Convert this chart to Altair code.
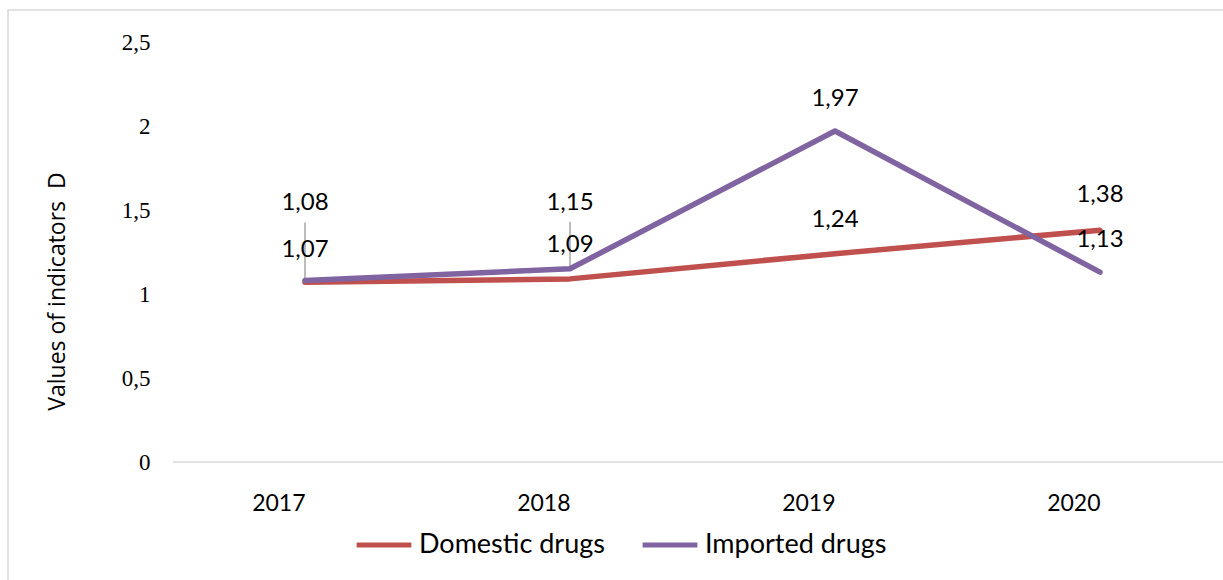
import altair as alt
import pandas as pd

years = ["2017", "2018", "2019", "2020"]
domestic = [1.07, 1.09, 1.24, 1.38]
imported = [1.08, 1.15, 1.97, 1.13]
series_names = ["Domestic drugs", "Imported drugs"]
colors = ["#C0504D", "#8064A2"]

# label placement (pixels above the point) and leader-line lengths (pixels)
dom_label_dy = [32, 34, 34, 35]
imp_label_dy = [78, 66, 32, 32]
imp_leader = [58, 47, 0, 0]

PX_PER_UNIT = 420 / 2.5

rows = []
for i, y in enumerate(years):
    rows.append(dict(year=y, series=series_names[0], value=domestic[i], dy=dom_label_dy[i], lead=0))
    rows.append(dict(year=y, series=series_names[1], value=imported[i], dy=imp_label_dy[i], lead=imp_leader[i]))
df = pd.DataFrame(rows)

x_scale = alt.Scale(type="point", range=[132, 927], padding=0)
x_enc = alt.X("year:O", scale=x_scale,
              axis=alt.Axis(title=None, labelAngle=0, ticks=False, domain=False,
                            labelFont="Lato", labelFontSize=23,
                            labelColor="#000000", labelPadding=41))
y_scale = alt.Scale(domain=[0, 2.5], nice=False)

base = alt.Chart(df)

one = pd.DataFrame({"a": [0]})
frame = alt.Chart(one).mark_rect(
    fill="transparent", stroke="#D9D9D9", strokeWidth=1.5
).encode(x=alt.value(-165), x2=alt.value(1070), y=alt.value(-32), y2=alt.value(600))

baseline = alt.Chart(one).mark_rule(color="#D9D9D9", strokeWidth=1.5).encode(
    x=alt.value(0), x2=alt.value(1050), y=alt.value(420)
)

lines = base.mark_line(strokeWidth=5.5, strokeCap="round", strokeJoin="round").encode(
    x=x_enc,
    y=alt.Y("value:Q", scale=y_scale,
            axis=alt.Axis(title="Values of indicators\u00a0 D", values=[0, 0.5, 1, 1.5, 2, 2.5],
                          labelExpr="replace(toString(datum.value), '.', ',')",
                          grid=False, domain=False, ticks=False,
                          labelFont="Liberation Serif", labelFontSize=23, labelColor="#000000",
                          labelPadding=23,
                          titleFont="Open Sans", titleFontSize=23, titleFontWeight="normal",
                          titleColor="#000000", titleAngle=270, titleX=-116, titleY=249,
                          titleAlign="center", titleBaseline="middle")),
    color=alt.Color("series:N", scale=alt.Scale(domain=series_names, range=colors),
                    legend=alt.Legend(title=None, orient="none", direction="horizontal",
                                      legendX=181, legendY=473, symbolType="stroke",
                                      symbolSize=3000, symbolStrokeWidth=5,
                                      labelFont="Lato", labelFontSize=27, labelColor="#000000",
                                      labelOffset=5, columnPadding=27, labelLimit=0)),
    detail="series:N",
)

leaders = base.transform_filter("datum.lead > 0").transform_calculate(
    top=f"datum.value + datum.lead / {PX_PER_UNIT}"
).mark_rule(color="#A6A6A6", strokeWidth=1.5).encode(
    x=alt.X("year:O", scale=x_scale),
    y=alt.Y("top:Q", scale=y_scale),
    y2="value:Q",
)

labels = base.transform_calculate(
    lv=f"datum.value + datum.dy / {PX_PER_UNIT}",
    txt="replace(format(datum.value, '.2f'), '.', ',')",
).mark_text(font="Lato", fontSize=24, color="#000000", baseline="middle", align="center").encode(
    x=alt.X("year:O", scale=x_scale),
    y=alt.Y("lv:Q", scale=y_scale),
    text="txt:N",
)

chart = alt.layer(frame, baseline, leaders, lines, labels).properties(
    width=1050, height=420,
    autosize=alt.AutoSizeParams(type="none"),
    padding={"left": 173, "top": 42, "right": 0, "bottom": 118},
    background="#FFFFFF",
).configure_view(strokeWidth=0, stroke="transparent")

chart.save("out.html", embed_options={"renderer": "svg", "actions": False})
